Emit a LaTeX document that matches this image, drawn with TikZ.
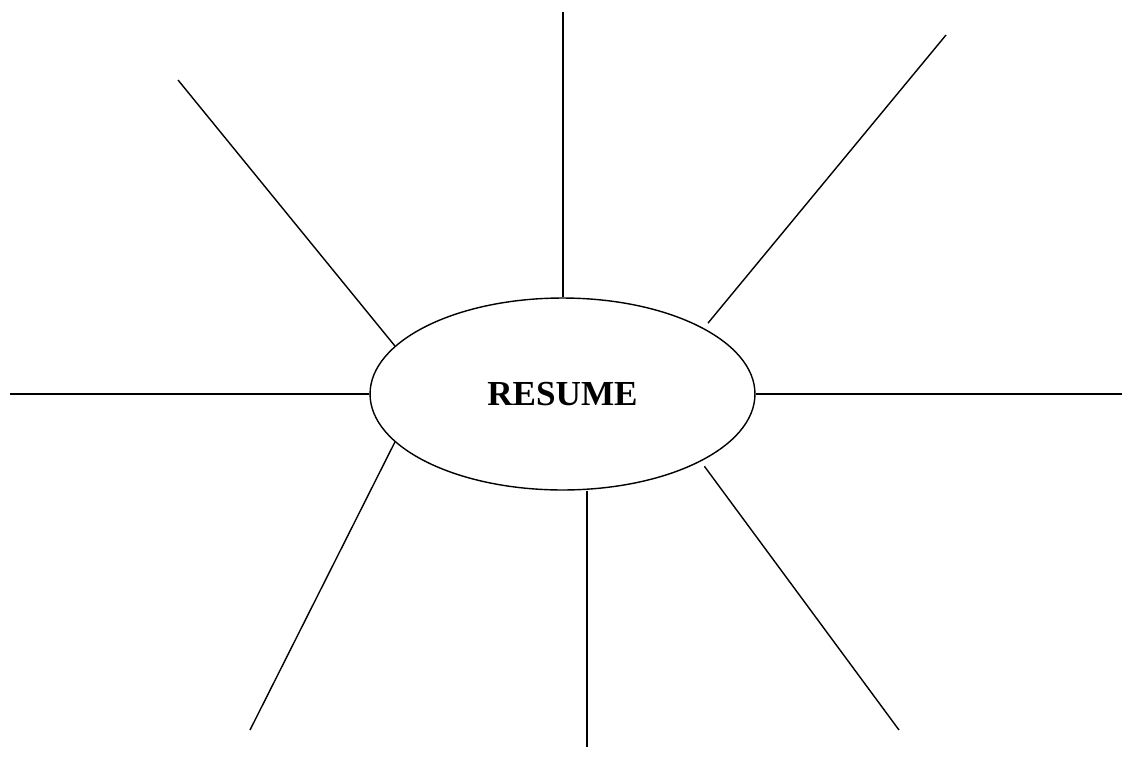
\documentclass[tikz,border=0pt]{standalone}
\usepackage{fontspec}
\setmainfont{Liberation Serif}
\usepackage{xcolor}
\usepackage{tikz}
\usetikzlibrary{shapes.geometric}
\definecolor{inkc}{HTML}{000000}

\begin{document}
\begin{tikzpicture}[x=0.02cm,y=-0.02cm,
  hub/.style={draw=inkc,ellipse,line width=0.8pt,minimum width=7.7cm,
              minimum height=3.84cm,inner sep=0pt,
              font=\fontsize{20}{24}\selectfont\bfseries},
  spoke/.style={draw=inkc,line width=0.8pt},
]
\useasboundingbox (0,0) rectangle (1124,777);

\node[hub] (hub) at (562.5,394) {RESUME};

\coordinate (n)  at (563,12);
\coordinate (ne) at (946,35);
\coordinate (e)  at (1122,394);
\coordinate (se) at (899,730);
\coordinate (s)  at (587,747);
\coordinate (sw) at (250,730);
\coordinate (w)  at (10,394);
\coordinate (nw) at (178,80);

\draw[spoke] (n |- hub.north) -- (n);
\draw[spoke,shorten <=0.13cm] (hub.25.4) -- (ne);
\draw[spoke] (hub.east) -- (e);
\draw[spoke,shorten <=0.12cm] (hub.334.9) -- (se);
\draw[spoke] (s |- hub.south) -- (s);
\draw[spoke] (hub.196) -- (sw);
\draw[spoke] (hub.west) -- (w);
\draw[spoke] (hub.164.3) -- (nw);
\end{tikzpicture}
\end{document}
